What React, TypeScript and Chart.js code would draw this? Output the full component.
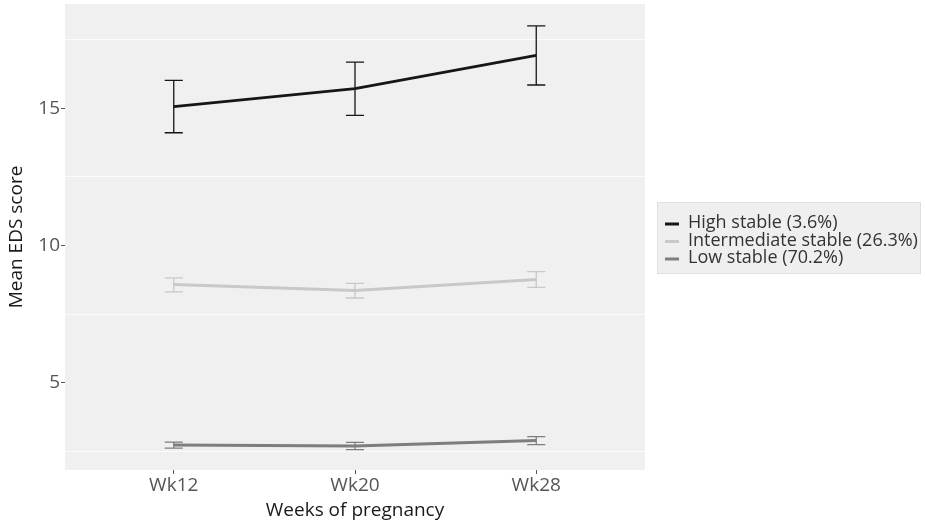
import React, { useEffect, useRef } from "react";
import { Chart, registerables } from "chart.js";

Chart.register(...registerables);

const categories = ["Wk12", "Wk20", "Wk28"];
const seriesNames = ["High stable (3.6%)", "Intermediate stable (26.3%)", "Low stable (70.2%)"];
const seriesColors = ["#161616", "#c8c8c8", "#7e7e7e"];
const highMean = [15.06, 15.72, 16.93];
const highLow = [14.11, 14.74, 15.85];
const highHigh = [16.02, 16.68, 18.0];
const interMean = [8.58, 8.36, 8.76];
const interLow = [8.31, 8.09, 8.48];
const interHigh = [8.82, 8.62, 9.05];
const lowMean = [2.74, 2.7, 2.9];
const lowLow = [2.62, 2.57, 2.75];
const lowHigh = [2.84, 2.83, 3.04];
const yTickValues = [5, 10, 15];

const FONT = "'Open Sans', 'Noto Sans', sans-serif";

const errorBars = [
  { lo: highLow, hi: highHigh },
  { lo: interLow, hi: interHigh },
  { lo: lowLow, hi: lowHigh },
];

const bgPlugin = {
  id: "panelBg",
  beforeDraw(chart: any) {
    const { ctx, chartArea } = chart;
    ctx.save();
    ctx.fillStyle = "#f0f0f0";
    ctx.fillRect(chartArea.left, chartArea.top, chartArea.right - chartArea.left, chartArea.bottom - chartArea.top);
    ctx.restore();
  },
};

const errPlugin = {
  id: "errBars",
  afterDatasetsDraw(chart: any) {
    const { ctx } = chart;
    const xs = chart.scales.x;
    const ys = chart.scales.y;
    ctx.save();
    errorBars.forEach((eb, si) => {
      ctx.strokeStyle = seriesColors[si];
      ctx.lineWidth = 1.3;
      eb.lo.forEach((lo, i) => {
        const x = xs.getPixelForValue(i + 1);
        const cap = xs.getPixelForValue(i + 1.05) - x;
        const yl = ys.getPixelForValue(lo);
        const yh = ys.getPixelForValue(eb.hi[i]);
        ctx.beginPath();
        ctx.moveTo(x, yl);
        ctx.lineTo(x, yh);
        ctx.moveTo(x - cap, yl);
        ctx.lineTo(x + cap, yl);
        ctx.moveTo(x - cap, yh);
        ctx.lineTo(x + cap, yh);
        ctx.stroke();
      });
    });
    ctx.restore();
  },
};

const legendPlugin = {
  id: "customLegend",
  afterDraw(chart: any) {
    const { ctx } = chart;
    ctx.save();
    ctx.fillStyle = "#efefef";
    ctx.fillRect(657, 202, 263, 71);
    ctx.strokeStyle = "#e0e0e0";
    ctx.lineWidth = 1;
    ctx.strokeRect(657.5, 202.5, 263, 71);
    ctx.font = `18px ${FONT}`;
    ctx.textBaseline = "middle";
    seriesNames.forEach((name, i) => {
      const y = 223 + i * 17.5;
      ctx.strokeStyle = seriesColors[i];
      ctx.lineWidth = 3;
      ctx.beginPath();
      ctx.moveTo(665, y + 1);
      ctx.lineTo(679, y + 1);
      ctx.stroke();
      ctx.fillStyle = "#333";
      ctx.fillText(name, 688, y);
    });
    ctx.restore();
  },
};

export default function App() {
  const ref = useRef<HTMLCanvasElement>(null);
  useEffect(() => {
    document.body.style.margin = "0";
    const means = [highMean, interMean, lowMean];
    const chart = new Chart(ref.current!, {
      type: "line",
      data: {
        datasets: means.map((m, si) => ({
          label: seriesNames[si],
          data: m.map((v, i) => ({ x: i + 1, y: v })),
          borderColor: seriesColors[si],
          backgroundColor: seriesColors[si],
          borderWidth: si === 0 ? 2.8 : 3,
          pointRadius: 0,
          tension: 0,
        })),
      },
      options: {
        animation: false,
        responsive: false,
        layout: { padding: { top: 4, right: 280, left: 0, bottom: 0 } },
        plugins: { legend: { display: false }, tooltip: { enabled: false } },
        scales: {
          x: {
            type: "linear",
            min: 0.4,
            max: 3.6,
            afterBuildTicks: (s: any) => {
              s.ticks = categories.map((_, i) => ({ value: i + 1 }));
            },
            afterFit: (s: any) => {
              s.height = 52;
              s.paddingLeft = 0;
              s.paddingRight = 0;
            },
            ticks: {
              callback: (v: any) => categories[Math.round(v) - 1] ?? "",
              font: { family: FONT, size: 19 },
              color: "#555",
              padding: 0,
              maxRotation: 0,
            },
            grid: { drawOnChartArea: false, tickLength: 4, tickColor: "#555", drawTicks: true },
            border: { display: false },
            title: {
              display: true,
              text: "Weeks of pregnancy",
              font: { family: FONT, size: 19 },
              color: "#1a1a1a",
              padding: { top: 0, bottom: 0 },
            },
          },
          y: {
            type: "linear",
            min: 1.825,
            max: 18.8,
            afterBuildTicks: (s: any) => {
              s.ticks = [2.5, 5, 7.5, 10, 12.5, 15, 17.5].map((v) => ({ value: v }));
            },
            afterFit: (s: any) => {
              s.width = 65;
              s.paddingTop = 0;
              s.paddingBottom = 0;
            },
            ticks: {
              callback: (v: any) => (yTickValues.includes(v) ? String(v) : ""),
              font: { family: FONT, size: 19 },
              color: "#555",
              padding: 1,
            },
            grid: {
              color: (c: any) => (c.tick && c.tick.value % 5 === 0 ? "rgba(0,0,0,0)" : "#fbfbfb"),
              tickColor: (c: any) => (c.tick && c.tick.value % 5 === 0 ? "#555" : "rgba(0,0,0,0)"),
              tickLength: 4,
              lineWidth: 1,
            },
            border: { display: false },
            title: {
              display: true,
              text: "Mean EDS score",
              font: { family: FONT, size: 19 },
              color: "#1a1a1a",
              padding: { top: 5, bottom: 6 },
            },
          },
        },
      },
      plugins: [bgPlugin, errPlugin, legendPlugin],
    } as any);
    return () => chart.destroy();
  }, []);
  return (
    <div style={{ position: "absolute", left: 0, top: 0, width: 925, height: 522 }}>
      <canvas ref={ref} width={925} height={522} style={{ width: 925, height: 522 }} />
    </div>
  );
}
